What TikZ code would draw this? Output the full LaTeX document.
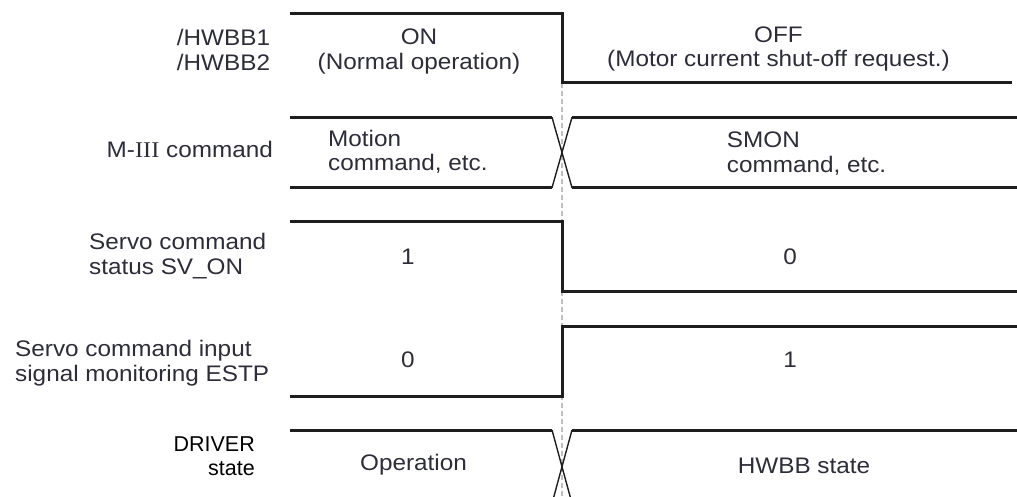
\documentclass[tikz,border=0pt]{standalone}
\usepackage{fontspec}
\setmainfont[FakeStretch=1.08]{Liberation Sans}
\newfontfamily\drvfont{Liberation Sans}
\newfontfamily\numfont[FakeStretch=1.08]{Liberation Serif}
\definecolor{txt}{RGB}{45,45,58}
\definecolor{ink}{RGB}{30,30,30}
\begin{document}
\begin{tikzpicture}[x=1pt,y=-1pt,
  lbl/.style={inner sep=0pt, text=txt, font=\fontsize{22.5}{24.5}\selectfont},
  drv/.style={inner sep=0pt, text=black, font=\drvfont\fontsize{21.5}{24.3}\selectfont},
  sig/.style={draw=ink, line width=3pt},
  xsig/.style={draw=ink, line width=1.4pt},
  guide/.style={draw=gray!50, line width=2pt, dash pattern=on 5pt off 3pt}]
\useasboundingbox (0,0) rectangle (1017,496);
\clip (0,0) rectangle (1017,496);

% guide line at the transition
\coordinate (gTop) at (562,82.7);
\coordinate (gBot) at (562,496);
\draw[guide] (gTop) -- (gBot);

% /HWBB1 /HWBB2
\draw[sig] (290,13.3) -- (562,13.3) -- (562,82.7) -- (1012,82.7);
% M-III command
\draw[sig] (290,117.3) -- (552,117.3);
\draw[sig] (290,187.7) -- (552,187.7);
\draw[sig] (572,117.3) -- (1017,117.3);
\draw[sig] (572,187.7) -- (1017,187.7);
\draw[xsig] (552,117.3) -- (572,187.7);
\draw[xsig] (552,187.7) -- (572,117.3);
% SV_ON
\draw[sig] (290,221.7) -- (562,221.7) -- (562,291.7) -- (1017,291.7);
% ESTP
\draw[sig] (290,396) -- (562,396) -- (562,326.7) -- (1017,326.7);
% DRIVER state
\draw[sig] (290,430) -- (552,430);
\draw[sig] (572,430) -- (1017,430);
\draw[xsig] (552,430) -- (572,503.4);
\draw[xsig] (572,430) -- (552,503.4);

% labels
\node[lbl, align=left, anchor=north west] (hwbbL) at (176.7,29) {/HWBB1\\/HWBB2};
\node[lbl, align=center, anchor=north] (onL) at (419,29) {ON\\(Normal operation)};
\node[lbl, align=center, anchor=north] (offL) at (778.5,26.5) {OFF\\(Motor current shut-off request.)};
\node[lbl, anchor=base east] (m3L) at (273,157) {M-{\numfont III} command};
\node[lbl, align=left, anchor=north west] (motL) at (328,129.5) {Motion\\command, etc.};
\node[lbl, align=left, anchor=north west] (smonL) at (726.7,132) {SMON\\command, etc.};
\node[lbl, align=left, anchor=north west] (svL) at (89,233) {Servo command\\status SV\_ON};
\node[lbl] (sv1) at (408,257) {1};
\node[lbl] (sv0) at (790,257) {0};
\node[lbl, align=left, anchor=north west] (esL) at (15,340) {Servo command input\\signal monitoring ESTP};
\node[lbl] (es0) at (408,360) {0};
\node[lbl] (es1) at (790,360) {1};
\node[drv, align=right, anchor=north east] (drvL) at (255,436) {DRIVER\\state};
\node[lbl, anchor=base] (opL) at (413.5,470) {Operation};
\node[lbl, anchor=base] (hwL) at (804,473) {HWBB state};
\end{tikzpicture}
\end{document}
